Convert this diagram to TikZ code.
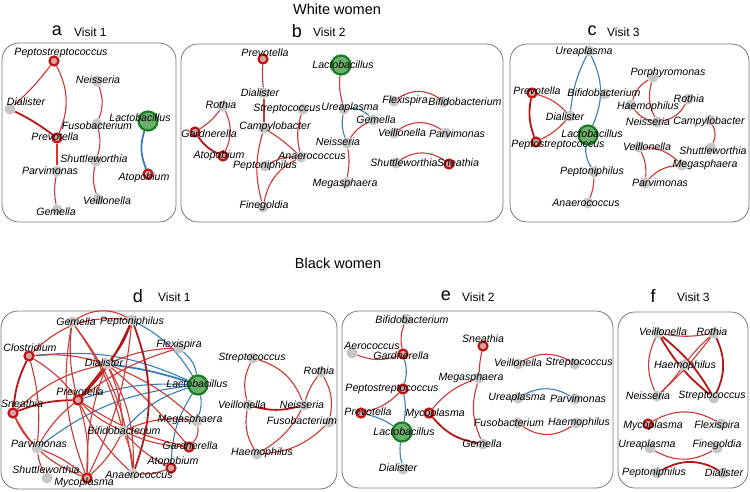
\documentclass[tikz,border=0pt]{standalone}
\usepackage{fontspec}
\setmainfont{Liberation Sans}
\usetikzlibrary{backgrounds}
\definecolor{nodegray}{RGB}{198,198,198}
\definecolor{ringred}{RGB}{190,20,20}
\definecolor{ringfill}{RGB}{215,165,165}
\definecolor{edgered}{RGB}{205,55,50}
\definecolor{edgedkred}{RGB}{182,22,22}
\definecolor{edgeblue}{RGB}{55,125,185}
\definecolor{lacfill}{RGB}{110,175,110}
\definecolor{lacring}{RGB}{25,125,35}
\definecolor{boxgray}{RGB}{120,120,120}
\tikzset{
    gnode/.style={circle, fill=nodegray, minimum size=11pt, inner sep=0pt},
    rnode/.style={circle, draw=ringred, line width=2.2pt, fill=ringfill, minimum size=9pt, inner sep=0pt},
    lacnode/.style={circle, draw=lacring, line width=2.2pt, fill=lacfill, minimum size=19pt, inner sep=0pt},
    txt/.style={font=\fontsize{10.6}{10}\selectfont\itshape, inner sep=0pt},
    panel/.style={draw=boxgray, line width=0.8pt, rounded corners=17pt},
    poscor/.style={draw=edgered, line width=1.1pt},
    poscork/.style={draw=edgedkred, line width=1.8pt},
    negcor/.style={draw=edgeblue, line width=1.1pt},
    negcork/.style={draw=edgeblue, line width=1.8pt},
}
\begin{document}
\begin{tikzpicture}[
    x=1pt, y=-1pt,
    head/.style={font=\fontsize{14.5}{14.5}\selectfont},
    letter/.style={font=\fontsize{18}{18}\selectfont, inner sep=0pt},
    visit/.style={font=\fontsize{12}{12}\selectfont, inner sep=0pt, anchor=west}
]
\useasboundingbox (0,0) rectangle (750,491);

% Headings
\node[head] (white) at (337,9) {White women};
\node[head] (black) at (338,263) {Black women};
\node[letter] (la) at (57,31) {a};  \node[visit] (va) at (74,32) {Visit 1};
\node[letter] (lb) at (297,31) {b}; \node[visit] (vb) at (313,32) {Visit 2};
\node[letter] (lc) at (592,31) {c}; \node[visit] (vc) at (607,32) {Visit 3};
\node[letter] (ld) at (138,296) {d}; \node[visit] (vd) at (158,297) {Visit 1};
\node[letter] (le) at (446,296) {e}; \node[visit] (ve) at (462,297) {Visit 2};
\node[letter] (lf) at (653,296) {f}; \node[visit] (vf) at (677,297) {Visit 3};

% Panel a: white women, visit 1
\node[rnode] (aPep) at (54,61) {};   \node[txt] (aPepT) at (61,53) {Peptostreptococcus};
\node[gnode] (aNei) at (97,81) {};   \node[txt] (aNeiT) at (98,80) {Neisseria};
\node[gnode] (aDia) at (10,109) {};  \node[txt] (aDiaT) at (26,102) {Dialister};
\node[lacnode] (aLac) at (148,121) {}; \node[txt] (aLacT) at (140,118) {Lactobacillus};
\node[gnode] (aFus) at (97,124) {};  \node[txt] (aFusT) at (97,126) {Fusobacterium};
\node[rnode] (aPre) at (57,138) {};  \node[txt] (aPreT) at (55,137) {Prevotella};
\node[gnode] (aShu) at (96,161) {};  \node[txt] (aShuT) at (94,159) {Shuttleworthia};
\node[gnode] (aPar) at (57,171) {};  \node[txt] (aParT) at (50,171) {Parvimonas};
\node[rnode] (aAto) at (148,174) {}; \node[txt] (aAtoT) at (144,178) {Atopobium};
\node[gnode] (aVei) at (98,199) {};  \node[txt] (aVeiT) at (107,201) {Veillonella};
\node[gnode] (aGem) at (57,210) {};  \node[txt] (aGemT) at (56,212) {Gemella};

% Panel b: white women, visit 2
\node[rnode] (bPre) at (263,59) {};  \node[txt] (bPreT) at (265,53) {Prevotella};
\node[lacnode] (bLac) at (341,65) {}; \node[txt] (bLacT) at (343,65) {Lactobacillus};
\node[gnode] (bDia) at (264,93) {};  \node[txt] (bDiaT) at (260,93) {Dialister};
\node[gnode] (bRot) at (223,106) {}; \node[txt] (bRotT) at (221,105) {Rothia};
\node[gnode] (bStr) at (303,109) {}; \node[txt] (bStrT) at (287,109) {Streptococcus};
\node[gnode] (bUre) at (344,109) {}; \node[txt] (bUreT) at (350,108) {Ureaplasma};
\node[gnode] (bGem) at (373,120) {}; \node[txt] (bGemT) at (376,120) {Gemella};
\node[gnode] (bCam) at (264,128) {}; \node[txt] (bCamT) at (275,127) {Campylobacter};
\node[rnode] (bGar) at (195,132) {}; \node[txt] (bGarT) at (209,134) {Gardnerella};
\node[gnode] (bNei) at (347,143) {}; \node[txt] (bNeiT) at (338,142) {Neisseria};
\node[rnode] (bAto) at (223,156) {}; \node[txt] (bAtoT) at (219,156) {Atopobium};
\node[gnode] (bAna) at (301,157) {}; \node[txt] (bAnaT) at (312,156) {Anaerococcus};
\node[gnode] (bPep) at (265,166) {}; \node[txt] (bPepT) at (265,166) {Peptoniphilus};
\node[gnode] (bMeg) at (346,183) {}; \node[txt] (bMegT) at (345,184) {Megasphaera};
\node[gnode] (bFin) at (263,207) {}; \node[txt] (bFinT) at (264,206) {Finegoldia};
\node[gnode] (bFle) at (394,101) {}; \node[txt] (bFleT) at (405,101) {Flexispira};
\node[gnode] (bBif) at (444,102) {}; \node[txt] (bBifT) at (465,102) {Bifidobacterium};
\node[gnode] (bVei) at (394,133) {}; \node[txt] (bVeiT) at (402,133) {Veillonella};
\node[gnode] (bPar) at (446,133) {}; \node[txt] (bParT) at (457,134) {Parvimonas};
\node[gnode] (bShu) at (396,163) {}; \node[txt] (bShuT) at (404,163) {Shuttleworthia};
\node[rnode] (bSne) at (449,164) {}; \node[txt] (bSneT) at (458,163) {Sneathia};

% Panel c: white women, visit 3
\node[gnode] (cUre) at (589,51) {};  \node[txt] (cUreT) at (584,52) {Ureaplasma};
\node[gnode] (cPor) at (653,77) {};  \node[txt] (cPorT) at (668,73) {Porphyromonas};
\node[rnode] (cPre) at (532,93) {};  \node[txt] (cPreT) at (537,91) {Prevotella};
\node[gnode] (cBif) at (605,94) {};  \node[txt] (cBifT) at (604,93) {Bifidobacterium};
\node[gnode] (cRot) at (688,99) {};  \node[txt] (cRotT) at (689,99) {Rothia};
\node[gnode] (cHae) at (631,105) {}; \node[txt] (cHaeT) at (648,107) {Haemophilus};
\node[gnode] (cDia) at (570,116) {}; \node[txt] (cDiaT) at (565,117) {Dialister};
\node[gnode] (cNei) at (657,122) {}; \node[txt] (cNeiT) at (648,122) {Neisseria};
\node[gnode] (cCam) at (710,120) {}; \node[txt] (cCamT) at (709,122) {Campylobacter};
\node[lacnode] (cLac) at (588,135) {}; \node[txt] (cLacT) at (592,134) {Lactobacillus};
\node[rnode] (cPes) at (536,142) {}; \node[txt] (cPesT) at (558,145) {Peptostreptococcus};
\node[gnode] (cVei) at (639,147) {}; \node[txt] (cVeiT) at (647,147) {Veillonella};
\node[gnode] (cShu) at (711,148) {}; \node[txt] (cShuT) at (713,151) {Shuttleworthia};
\node[gnode] (cMeg) at (682,165) {}; \node[txt] (cMegT) at (705,165) {Megasphaera};
\node[gnode] (cPep) at (594,172) {}; \node[txt] (cPepT) at (592,172) {Peptoniphilus};
\node[gnode] (cPar) at (645,183) {}; \node[txt] (cParT) at (660,183) {Parvimonas};
\node[gnode] (cAna) at (588,203) {}; \node[txt] (cAnaT) at (586,203) {Anaerococcus};

% Panel d: black women, visit 1
\node[gnode] (dGem) at (72,322) {};  \node[txt] (dGemT) at (76,322) {Gemella};
\node[gnode] (dPep) at (132,320) {}; \node[txt] (dPepT) at (132,322) {Peptoniphilus};
\node[rnode] (dClo) at (29,356) {};  \node[txt] (dCloT) at (30,348) {Clostridium};
\node[gnode] (dFle) at (179,348) {}; \node[txt] (dFleT) at (179,345) {Flexispira};
\node[gnode] (dDia) at (107,364) {}; \node[txt] (dDiaT) at (104,363) {Dialister};
\node[lacnode] (dLac) at (198,385) {}; \node[txt] (dLacT) at (197,384) {Lactobacillus};
\node[rnode] (dPre) at (78,400) {};  \node[txt] (dPreT) at (80,392) {Prevotella};
\node[rnode] (dSne) at (13,413) {};  \node[txt] (dSneT) at (22,404) {Sneathia};
\node[gnode] (dMeg) at (197,421) {}; \node[txt] (dMegT) at (190,420) {Megasphaera};
\node[gnode] (dBif) at (123,431) {}; \node[txt] (dBifT) at (124,431) {Bifidobacterium};
\node[gnode] (dPar) at (37,448) {};  \node[txt] (dParT) at (39,444) {Parvimonas};
\node[rnode] (dGar) at (189,447) {}; \node[txt] (dGarT) at (190,446) {Gardnerella};
\node[rnode] (dAto) at (171,468) {}; \node[txt] (dAtoT) at (173,462) {Atopobium};
\node[gnode] (dAna) at (133,474) {}; \node[txt] (dAnaT) at (139,475) {Anaerococcus};
\node[gnode] (dShu) at (47,478) {};  \node[txt] (dShuT) at (46,470) {Shuttleworthia};
\node[rnode] (dMyc) at (87,478) {};  \node[txt] (dMycT) at (84,483) {Mycoplasma};
\node[gnode] (dStr) at (253,358) {}; \node[txt] (dStrT) at (252,358) {Streptococcus};
\node[gnode] (dRot) at (321,372) {}; \node[txt] (dRotT) at (319,371) {Rothia};
\node[gnode] (dVei) at (248,405) {}; \node[txt] (dVeiT) at (242,405) {Veillonella};
\node[gnode] (dNei) at (304,405) {}; \node[txt] (dNeiT) at (302,405) {Neisseria};
\node[gnode] (dFus) at (329,422) {}; \node[txt] (dFusT) at (302,421) {Fusobacterium};
\node[gnode] (dHae) at (257,454) {}; \node[txt] (dHaeT) at (262,453) {Haemophilus};

% Panel e: black women, visit 2
\node[gnode] (eBif) at (406,319) {}; \node[txt] (eBifT) at (412,320) {Bifidobacterium};
\node[gnode] (eAer) at (352,353) {}; \node[txt] (eAerT) at (372,346) {Aerococcus};
\node[rnode] (eSne) at (483,346) {}; \node[txt] (eSneT) at (483,339) {Sneathia};
\node[rnode] (eGar) at (403,354) {}; \node[txt] (eGarT) at (401,356) {Gardnerella};
\node[gnode] (eVei) at (518,364) {}; \node[txt] (eVeiT) at (518,363) {Veillonella};
\node[gnode] (eStr) at (575,364) {}; \node[txt] (eStrT) at (579,363) {Streptococcus};
\node[gnode] (eMeg) at (479,378) {}; \node[txt] (eMegT) at (471,378) {Megasphaera};
\node[rnode] (ePes) at (403,389) {}; \node[txt] (ePesT) at (392,389) {Peptostreptococcus};
\node[gnode] (eUre) at (518,398) {}; \node[txt] (eUreT) at (517,398) {Ureaplasma};
\node[gnode] (ePar) at (575,399) {}; \node[txt] (eParT) at (578,399) {Parvimonas};
\node[rnode] (ePre) at (361,413) {}; \node[txt] (ePreT) at (368,412) {Prevotella};
\node[rnode] (eMyc) at (429,413) {}; \node[txt] (eMycT) at (435,414) {Mycoplasma};
\node[lacnode] (eLac) at (402,432) {}; \node[txt] (eLacT) at (404,432) {Lactobacillus};
\node[gnode] (eFus) at (518,423) {}; \node[txt] (eFusT) at (509,423) {Fusobacterium};
\node[gnode] (eHae) at (576,423) {}; \node[txt] (eHaeT) at (579,423) {Haemophilus};
\node[gnode] (eGem) at (483,444) {}; \node[txt] (eGemT) at (482,444) {Gemella};
\node[gnode] (eDia) at (403,469) {}; \node[txt] (eDiaT) at (398,468) {Dialister};

% Panel f: black women, visit 3
\node[gnode] (fVei) at (658,333) {}; \node[txt] (fVeiT) at (663,332) {Veillonella};
\node[gnode] (fRot) at (714,333) {}; \node[txt] (fRotT) at (712,332) {Rothia};
\node[gnode] (fHae) at (684,365) {}; \node[txt] (fHaeT) at (685,366) {Haemophilus};
\node[gnode] (fNei) at (657,396) {}; \node[txt] (fNeiT) at (648,396) {Neisseria};
\node[gnode] (fStr) at (714,398) {}; \node[txt] (fStrT) at (712,396) {Streptococcus};
\node[rnode] (fMyc) at (648,424) {}; \node[txt] (fMycT) at (653,426) {Mycoplasma};
\node[gnode] (fFle) at (721,424) {}; \node[txt] (fFleT) at (717,426) {Flexispira};
\node[gnode] (fUre) at (650,448) {}; \node[txt] (fUreT) at (647,445) {Ureaplasma};
\node[gnode] (fFin) at (717,448) {}; \node[txt] (fFinT) at (717,445) {Finegoldia};
\node[gnode] (fPep) at (657,473) {}; \node[txt] (fPepT) at (654,473) {Peptoniphilus};
\node[gnode] (fDia) at (723,473) {}; \node[txt] (fDiaT) at (724,473) {Dialister};

\begin{scope}[on background layer]
% panel frames
\draw[panel] (2,43) rectangle (176,222);
\draw[panel] (181,44) rectangle (503,222);
\draw[panel] (510,44) rectangle (749,222);
\draw[panel] (1,311) rectangle (337,489);
\draw[panel] (342,311) rectangle (613,488);
\draw[panel] (618,312) rectangle (748,488);

% edges a
\draw[poscor] (aPep) to[bend left=5] (aDia);
\draw[poscor] (aPep) to[bend left=25] (aPre);
\draw[poscork] (aDia) to[bend left=5] (aPre);
\draw[poscor] (aPre) -- (aPar);
\draw[poscor] (aPar) to[bend right=10] (aGem);
\draw[poscor] (aNei) to[bend left=20] (aFus);
\draw[poscor] (aFus) to[bend left=15] (aShu);
\draw[poscor] (aShu) to[bend right=15] (aVei);
\draw[negcork] (aLac) to[bend right=20] (aAto);

% edges b
\draw[poscor] (bPre) to[bend right=5] (bDia);
\draw[poscor] (bDia) -- (bCam);
\draw[poscor] (bCam) to[bend left=5] (bAna);
\draw[poscor] (bCam) to[bend right=15] (bFin);
\draw[poscor] (bStr) to[bend right=15] (bAna);
\draw[poscor] (bPep) to[bend left=15] (bAna);
\draw[poscor] (bAna) to[bend right=25] (bFin);
\draw[poscor] (bRot) to[bend left=10] (bGar);
\draw[poscor] (bRot) to[bend left=25] (bAto);
\draw[poscork] (bGar) to[bend right=15] (bAto);
\draw[poscor] (bLac) to[bend right=10] (bUre);
\draw[negcor] (bUre) to[bend right=15] (bNei);
\draw[negcor] (bUre) to[bend left=25] (bGem);
\draw[poscor] (bNei) to[bend left=15] (bGem);
\draw[poscor] (bNei) to[bend left=10] (bMeg);
\draw[poscor] (bFle) to[bend left=35] (bBif);
\draw[poscor] (bVei) to[bend left=35] (bPar);
\draw[poscor] (bShu) to[bend left=35] (bSne);

% edges c
\draw[negcor] (cUre) to[bend right=10] (cDia);
\draw[negcor] (cUre) to[bend left=25] (cLac);
\draw[negcor] (cLac) to[bend right=20] (cPep);
\draw[poscor] (cPep) to[bend left=10] (cAna);
\draw[poscork] (cPre) to[bend right=15] (cPes);
\draw[poscor] (cPre) to[bend left=15] (cDia);
\draw[poscor] (cDia) to[bend left=10] (cPes);
\draw[poscor] (cPor) to[bend right=20] (cHae);
\draw[poscor] (cPor) to[bend right=20] (cNei);
\draw[poscor] (cHae) to[bend right=20] (cNei);
\draw[poscor] (cNei) to[bend right=25] (cRot);
\draw[poscor] (cCam) to[bend left=25] (cShu);
\draw[poscor] (cVei) to[bend left=20] (cMeg);
\draw[poscor] (cVei) to[bend left=15] (cPar);
\draw[poscor] (cPar) to[bend left=20] (cMeg);

% edges d
\draw[negcor] (dClo) to[bend left=15] (dLac);
\draw[negcor] (dPep) to[bend left=15] (dLac);
\draw[negcork] (dDia) to[bend left=5] (dLac);
\draw[negcor] (dPre) to[bend left=10] (dLac);
\draw[negcor] (dPar) to[bend left=15] (dLac);
\draw[negcor] (dBif) to[bend left=15] (dLac);
\draw[negcor] (dLac) to[bend right=15] (dAto);
\draw[negcor] (dLac) to[bend left=15] (dMeg);
\draw[negcor] (dFle) to[bend left=20] (dLac);
\draw[poscork] (dClo) to[bend right=10] (dSne);
\draw[poscor] (dClo) to[bend left=10] (dPre);
\draw[poscor] (dClo) to[bend left=10] (dDia);
\draw[poscor] (dClo) to[bend left=10] (dPar);
\draw[poscor] (dClo) to[bend left=25] (dPep);
\draw[poscork] (dSne) to[bend left=10] (dPre);
\draw[poscor] (dSne) to[bend right=10] (dPar);
\draw[poscor] (dSne) to[bend left=15] (dDia);
\draw[poscor] (dSne) to[bend right=20] (dMyc);
\draw[poscork] (dPre) -- (dDia);
\draw[poscork] (dPre) to[bend right=10] (dPep);
\draw[poscor] (dPre) to[bend left=10] (dGem);
\draw[poscor] (dPre) to[bend right=10] (dBif);
\draw[poscor] (dPre) to[bend right=10] (dAna);
\draw[poscor] (dPre) to[bend left=10] (dMyc);
\draw[poscor] (dPre) to[bend right=10] (dPar);
\draw[poscor] (dPre) to[bend right=10] (dGar);
\draw[poscor] (dPre) to[bend left=10] (dFle);
\draw[poscork] (dDia) to[bend right=10] (dPep);
\draw[poscor] (dDia) to[bend left=10] (dBif);
\draw[poscor] (dDia) to[bend right=10] (dMyc);
\draw[poscor] (dDia) to[bend left=15] (dAna);
\draw[poscor] (dDia) to[bend left=10] (dMeg);
\draw[poscor] (dDia) to[bend left=5] (dGar);
\draw[poscor] (dDia) to[bend left=10] (dFle);
\draw[poscork] (dPep) to[bend left=20] (dAna);
\draw[poscor] (dPep) to[bend left=10] (dMyc);
\draw[poscor] (dGem) to[bend left=15] (dAna);
\draw[poscor] (dGem) to[bend left=10] (dBif);
\draw[poscor] (dGem) to[bend left=30] (dPep);
\draw[poscor] (dGem) to[bend right=15] (dMyc);
\draw[poscor] (dBif) to[bend left=15] (dMeg);
\draw[poscor] (dBif) to[bend right=10] (dAto);
\draw[poscor] (dBif) to[bend right=10] (dGar);
\draw[poscor] (dBif) to[bend left=10] (dMyc);
\draw[poscor] (dBif) to[bend left=10] (dAna);
\draw[poscor] (dPar) to[bend right=10] (dShu);
\draw[poscor] (dPar) to[bend left=10] (dMyc);
\draw[poscor] (dAna) to[bend right=10] (dAto);
\draw[poscor] (dMeg) to[bend left=25] (dGar);
\draw[poscor] (dStr) to[bend right=20] (dVei);
\draw[poscor] (dStr) to[bend left=25] (dNei);
\draw[poscork] (dVei) to[bend right=15] (dNei);
\draw[poscor] (dVei) to[bend right=20] (dHae);
\draw[poscor] (dNei) to[bend left=15] (dHae);
\draw[poscor] (dFus) to[bend left=20] (dHae);
\draw[poscor] (dRot) to[bend right=10] (dNei);
\draw[poscor] (dRot) to[bend left=20] (dFus);

% edges e
\draw[poscor] (eBif) to[bend right=15] (eGar);
\draw[poscor] (eAer) to[bend right=20] (eGar);
\draw[negcor] (eGar) to[bend left=15] (ePes);
\draw[poscor] (ePes) to[bend left=15] (ePre);
\draw[negcor] (ePes) to[bend left=10] (eLac);
\draw[negcor] (ePre) to[bend left=10] (eLac);
\draw[negcor] (eLac) to[bend right=10] (eDia);
\draw[poscor] (eMyc) to[bend left=15] (eMeg);
\draw[poscork] (eMyc) to[bend right=20] (eGem);
\draw[poscor] (eSne) to[bend right=5] (eMeg);
\draw[poscor] (eMeg) to[bend right=20] (eGem);
\draw[poscor] (eVei) to[bend left=30] (eStr);
\draw[negcor] (eUre) to[bend left=30] (ePar);
\draw[poscor] (eFus) to[bend right=35] (eHae);

% edges f
\draw[poscor] (fVei) to[bend right=10] (fRot);
\draw[poscor] (fVei) to[bend right=25] (fNei);
\draw[poscork] (fVei) to[bend right=10] (fStr);
\draw[poscork] (fVei) to[bend left=10] (fStr);
\draw[poscor] (fRot) to[bend right=5] (fHae);
\draw[poscor] (fRot) to[bend left=5] (fNei);
\draw[poscork] (fRot) to[bend left=25] (fStr);
\draw[poscor] (fHae) to[bend left=5] (fNei);
\draw[poscor] (fMyc) to[bend left=30] (fFle);
\draw[poscor] (fUre) to[bend right=30] (fFin);
\draw[poscork] (fPep) to[bend left=30] (fDia);
\end{scope}
\end{tikzpicture}
\end{document}
